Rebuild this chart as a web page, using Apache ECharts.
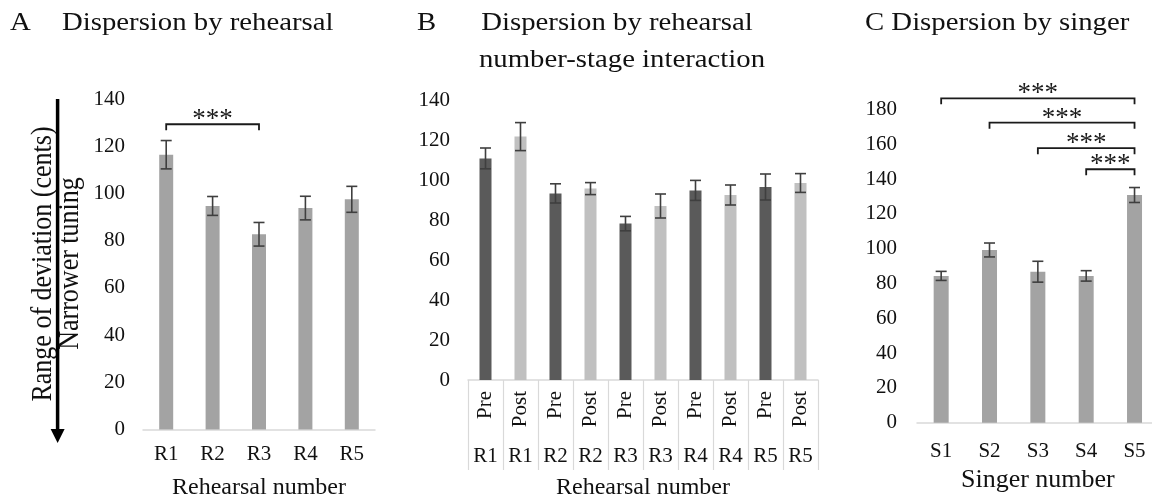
<!DOCTYPE html>
<html>
<head>
<meta charset="utf-8">
<script src="https://cdn.jsdelivr.net/npm/echarts@6/dist/echarts.min.js"></script>
<style>html,body{margin:0;padding:0;background:#fff}#c{width:1152px;height:502px}</style>
</head>
<body>
<div id="c"></div>
<script>
// ---- Data ----
const catsA = ['R1', 'R2', 'R3', 'R4', 'R5'];
const meanA = [116.4, 94.7, 82.7, 93.8, 97.5];
const errA = [6, 4, 5, 5, 5.5];

const stageB = ['Pre', 'Post', 'Pre', 'Post', 'Pre', 'Post', 'Pre', 'Post', 'Pre', 'Post'];
const groupB = ['R1', 'R1', 'R2', 'R2', 'R3', 'R3', 'R4', 'R4', 'R5', 'R5'];
const meanPre = [110.8, 93.3, 78.2, 94.8, 96.5];
const errPre = [5.2, 4.8, 3.6, 5, 6.5];
const meanPost = [121.7, 95.7, 87, 92.5, 98.5];
const errPost = [7, 3, 6, 5, 4.7];

const catsC = ['S1', 'S2', 'S3', 'S4', 'S5'];
const meanC = [84.4, 99.3, 86.8, 84.4, 130.9];
const errC = [2.6, 4, 6, 3, 4.3];

const yTicksA = [0, 140, 20];
const yTicksB = [0, 140, 20];
const yTicksC = [0, 180, 20];

// significance brackets: [from index, to index, height]
const bracketsA = [[0, 1.96, 129.3]];
const bracketsC = [[-0.1, 3.98, 186.5], [0.81, 3.98, 172.5], [2, 3.98, 157.8], [2.9, 3.98, 145.7]];

// ---- Build ----
const FONT = '"Liberation Serif", "Times New Roman", serif';
const TXT = '#111';
const AXC = '#d9d9d9';

const errData = (means, errs, idxFn) => means.map((m, i) => [idxFn(i), m - errs[i], m + errs[i]]);
const prePos = i => i * 2, postPos = i => i * 2 + 1;

const preBars = stageB.map(() => '-');
const postBars = stageB.map(() => '-');
meanPre.forEach((v, i) => preBars[prePos(i)] = v);
meanPost.forEach((v, i) => postBars[postPos(i)] = v);

function errRender(params, api) {
  const x = api.value(0);
  const lo = api.coord([x, api.value(1)]);
  const hi = api.coord([x, api.value(2)]);
  const w = 5.5;
  const st = { stroke: '#3f3f3f', lineWidth: 1.6 };
  return {
    type: 'group',
    children: [
      { type: 'line', shape: { x1: lo[0], y1: lo[1], x2: hi[0], y2: hi[1] }, style: st },
      { type: 'line', shape: { x1: lo[0] - w, y1: lo[1], x2: lo[0] + w, y2: lo[1] }, style: st },
      { type: 'line', shape: { x1: hi[0] - w, y1: hi[1], x2: hi[0] + w, y2: hi[1] }, style: st }
    ]
  };
}
function bracketRender(params, api) {
  const a = api.value(0), b = api.value(1), y = api.value(2);
  const p1 = api.coord([a, y]);
  const p2 = api.coord([b, y]);
  const t = 6;
  return {
    type: 'group',
    children: [
      { type: 'polyline', shape: { points: [[p1[0], p1[1] + t], [p1[0], p1[1]], [p2[0], p2[1]], [p2[0], p2[1] + t]] },
        style: { stroke: '#1a1a1a', lineWidth: 1.8, fill: null } },
      { type: 'text', x: (p1[0] + p2[0]) / 2, y: p1[1] - 4,
        style: { text: '***', font: '27px ' + FONT, fill: '#1a1a1a', align: 'center', verticalAlign: 'middle',
                 textAlign: 'center', textVerticalAlign: 'middle' } }
    ]
  };
}

function yAxis(gi, ticks, margin) {
  return {
    type: 'value', gridIndex: gi, min: ticks[0], max: ticks[1], interval: ticks[2],
    axisLine: { show: false }, axisTick: { show: false }, splitLine: { show: false },
    axisLabel: { fontFamily: FONT, fontSize: 21, color: TXT, margin: margin }
  };
}

const titleStyle = (t, align) => ({ text: t, font: '25px ' + FONT, fill: TXT, textAlign: align || 'left', align: align || 'left',
  textVerticalAlign: 'middle', verticalAlign: 'middle' });

const option = {
  animation: false,
  backgroundColor: '#fff',
  grid: [
    { left: 143, right: 777, top: 99, bottom: 72.5, outerBoundsMode: 'none' },
    { left: 468, right: 334, top: 100, bottom: 122, outerBoundsMode: 'none' },
    { left: 917, width: 241.7, top: 109.6, bottom: 79.3, outerBoundsMode: 'none', containLabel: false }
  ],
  xAxis: [
    { type: 'category', gridIndex: 0, data: catsA,
      axisLine: { lineStyle: { color: AXC, width: 1.5 } }, axisTick: { show: false },
      axisLabel: { fontFamily: FONT, fontSize: 21, color: TXT, margin: 14, interval: 0 },
      name: 'Rehearsal number', nameLocation: 'middle', nameGap: 46,
      nameTextStyle: { fontFamily: FONT, fontSize: 24, color: TXT } },
    { type: 'category', gridIndex: 1, data: stageB,
      axisLine: { lineStyle: { color: AXC, width: 1.5 } },
      axisTick: { show: true, interval: 0, length: 90, lineStyle: { color: AXC, width: 1.2 } },
      axisLabel: { fontFamily: FONT, fontSize: 21, color: TXT, margin: 11, rotate: 90, interval: 0 } },
    { type: 'category', gridIndex: 1, data: groupB, position: 'bottom',
      axisLine: { show: false }, axisTick: { show: false },
      axisLabel: { fontFamily: FONT, fontSize: 21, color: TXT, margin: 66, interval: 0 },
      name: 'Rehearsal number', nameLocation: 'middle', nameGap: 96,
      nameTextStyle: { fontFamily: FONT, fontSize: 24, color: TXT } },
    { type: 'category', gridIndex: 2, data: catsC,
      axisLine: { lineStyle: { color: AXC, width: 1.5 } }, axisTick: { show: false },
      axisLabel: { fontFamily: FONT, fontSize: 21, color: TXT, margin: 18, interval: 0 },
      name: 'Singer number', nameLocation: 'middle', nameGap: 44,
      nameTextStyle: { fontFamily: FONT, fontSize: 26, color: TXT } }
  ],
  yAxis: [yAxis(0, yTicksA, 18), yAxis(1, yTicksB, 18), yAxis(2, yTicksC, 20)],
  series: [
    { type: 'bar', xAxisIndex: 0, yAxisIndex: 0, data: meanA, barWidth: 14, itemStyle: { color: '#a3a3a3' } },
    { type: 'custom', xAxisIndex: 0, yAxisIndex: 0, data: errData(meanA, errA, i => i),
      encode: { x: 0, y: [1, 2] }, renderItem: errRender, z: 5 },
    { type: 'custom', xAxisIndex: 0, yAxisIndex: 0, data: bracketsA,
      encode: { x: 1, y: 2 }, renderItem: bracketRender, clip: false, z: 5 },

    { type: 'bar', xAxisIndex: 1, yAxisIndex: 1, data: preBars, barWidth: 12, barGap: '-100%', itemStyle: { color: '#5a5a5a' } },
    { type: 'bar', xAxisIndex: 1, yAxisIndex: 1, data: postBars, barWidth: 12, barGap: '-100%', itemStyle: { color: '#c0c0c0' } },
    { type: 'custom', xAxisIndex: 1, yAxisIndex: 1, data: errData(meanPre, errPre, prePos),
      encode: { x: 0, y: [1, 2] }, renderItem: errRender, z: 5 },
    { type: 'custom', xAxisIndex: 1, yAxisIndex: 1, data: errData(meanPost, errPost, postPos),
      encode: { x: 0, y: [1, 2] }, renderItem: errRender, z: 5 },

    { type: 'bar', xAxisIndex: 3, yAxisIndex: 2, data: meanC, barWidth: 15, itemStyle: { color: '#a3a3a3' } },
    { type: 'custom', xAxisIndex: 3, yAxisIndex: 2, data: errData(meanC, errC, i => i),
      encode: { x: 0, y: [1, 2] }, renderItem: errRender, z: 5 },
    { type: 'custom', xAxisIndex: 3, yAxisIndex: 2, data: bracketsC,
      encode: { x: 1, y: 2 }, renderItem: bracketRender, clip: false, z: 5 }
  ],
  graphic: [
    { type: 'text', x: 10, y: 23, scaleX: 1.15, style: titleStyle('A') },
    { type: 'text', x: 62, y: 23, scaleX: 1.15, style: titleStyle('Dispersion by rehearsal') },
    { type: 'text', x: 417, y: 23, scaleX: 1.15, style: titleStyle('B') },
    { type: 'text', x: 617, y: 23, scaleX: 1.15, style: titleStyle('Dispersion by rehearsal', 'center') },
    { type: 'text', x: 622, y: 60, scaleX: 1.15, style: titleStyle('number-stage interaction', 'center') },
    { type: 'text', x: 865, y: 23, scaleX: 1.15, style: titleStyle('C Dispersion by singer') },
    { type: 'text', x: 43, y: 264, rotation: Math.PI / 2, scaleY: 1.1,
      style: { text: 'Range of deviation (cents)', font: '26px ' + FONT, fill: TXT, textAlign: 'center', align: 'center', textVerticalAlign: 'middle', verticalAlign: 'middle' } },
    { type: 'text', x: 70, y: 263.5, rotation: Math.PI / 2, scaleY: 1.1,
      style: { text: 'Narrower tuning', font: '26px ' + FONT, fill: TXT, textAlign: 'center', align: 'center', textVerticalAlign: 'middle', verticalAlign: 'middle' } },
    { type: 'line', shape: { x1: 57.6, y1: 99, x2: 57.6, y2: 431 }, style: { stroke: '#000', lineWidth: 3.5 } },
    { type: 'polygon', shape: { points: [[50.6, 429], [64.6, 429], [57.6, 443]] }, style: { fill: '#000' } }
  ]
};

const chart = echarts.init(document.getElementById('c'), null, { renderer: 'canvas' });
chart.setOption(option);
</script>
</body>
</html>
